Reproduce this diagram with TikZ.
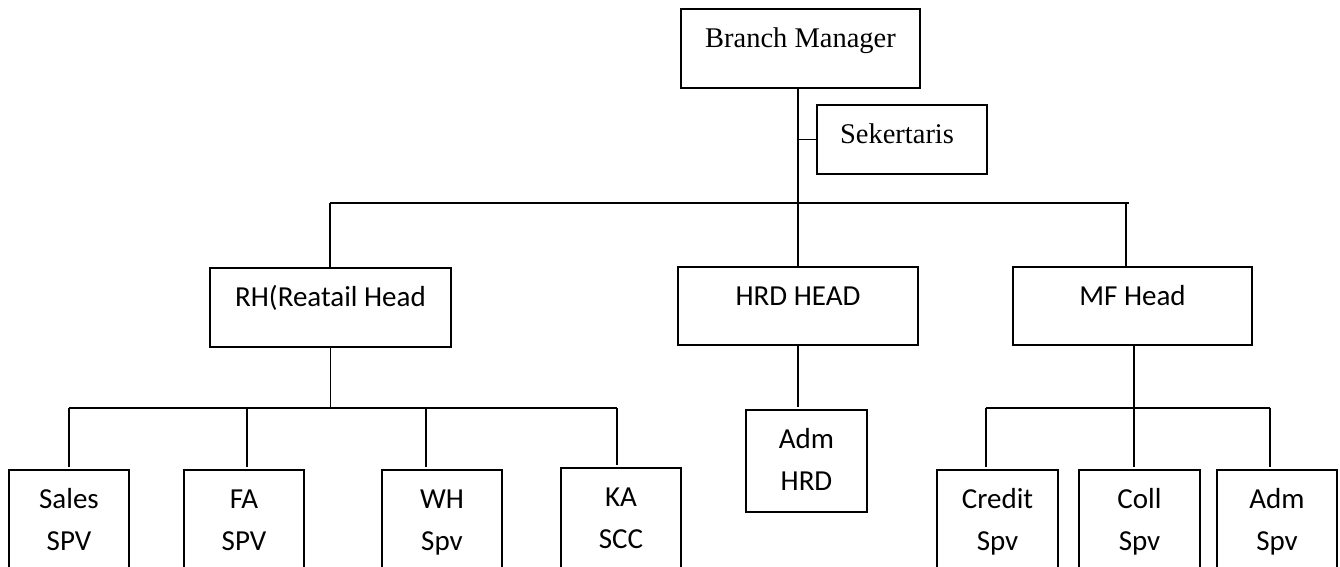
\documentclass[tikz,border=0pt]{standalone}
\usepackage{fontspec}
\setmainfont{Liberation Serif}
\newfontfamily\calfont{Carlito}
\newcommand{\bxt}[3]{\parbox[t][#2][t]{#1}{\centering\rule{0pt}{38pt}#3}}
\begin{document}
\begin{tikzpicture}[x=1pt,y=-1pt,line width=1.8pt,
  box/.style={draw,inner sep=0pt,outer sep=0pt,anchor=north west,line width=1.8pt},
  tm/.style={font=\fontsize{28.5}{40}\selectfont},
  cb/.style={font=\calfont\fontsize{29}{42}\selectfont},
  drop/.style={shorten >=3pt}]
\useasboundingbox (0,0) rectangle (1340,566);
\clip (0,0) rectangle (1340,566);
% boxes
\node[box,tm] (bm) at (681,9) {\bxt{239pt}{79pt}{Branch Manager}};
\node[box,tm] (sek) at (817,105) {\bxt{170pt}{69pt}{\hspace*{-10pt}Sekertaris}};
\node[box,cb] (rh) at (210,268) {\bxt{241pt}{79pt}{RH(Reatail Head}};
\node[box,cb] (hrd) at (678,267) {\bxt{240pt}{78pt}{HRD HEAD}};
\node[box,cb] (mf) at (1013,267) {\bxt{239pt}{78pt}{MF Head}};
\node[box,cb] (admhrd) at (746,410) {\bxt{121pt}{102pt}{Adm\\HRD}};
\node[box,cb] (sales) at (9,470) {\bxt{120pt}{130pt}{Sales\\SPV}};
\node[box,cb] (fa) at (184,470) {\bxt{120pt}{130pt}{FA\\SPV}};
\node[box,cb] (wh) at (382,470) {\bxt{120pt}{130pt}{WH\\Spv}};
\node[box,cb] (ka) at (561,468) {\bxt{120pt}{130pt}{KA\\SCC}};
\node[box,cb] (credit) at (937,470) {\bxt{121pt}{130pt}{Credit\\Spv}};
\node[box,cb] (coll) at (1079,470) {\bxt{121pt}{130pt}{Coll\\Spv}};
\node[box,cb] (adms) at (1217,470) {\bxt{120pt}{130pt}{Adm\\Spv}};
% top level
\draw (bm.south -| hrd.north) -- (hrd.north);
\draw (sek.west) -- (sek.west -| hrd.north);
\coordinate (barL) at (330,203);
\coordinate (barR) at (1129,203);
\draw (barL) -- (barR);
\draw (barL) -- (barL |- rh.north);
\draw ([xshift=-3pt]barR) -- ([xshift=-3pt]barR |- mf.north);
% retail
\coordinate (d1) at (69,408);
\coordinate (d2) at (247,408);
\coordinate (d3) at (426,408);
\coordinate (d4) at (617,408);
\draw (d1) -- (d4);
\draw (rh.south) -- (rh.south |- d1);
\foreach \p/\n in {d1/sales,d2/fa,d3/wh,d4/ka}
  \draw[drop] (\p) -- (\p |- \n.north);
% hrd
\draw[drop] (hrd.south) -- (hrd.south |- admhrd.north);
% mf
\coordinate (m1) at (986,408);
\coordinate (m3) at (1270,408);
\draw (m1) -- (m3);
\draw[drop] (m1) -- (m1 |- credit.north);
\draw[drop] (m3) -- (m3 |- adms.north);
\draw[drop] ([xshift=1.5pt]mf.south) -- ([xshift=1.5pt]mf.south |- coll.north);
\end{tikzpicture}
\end{document}
